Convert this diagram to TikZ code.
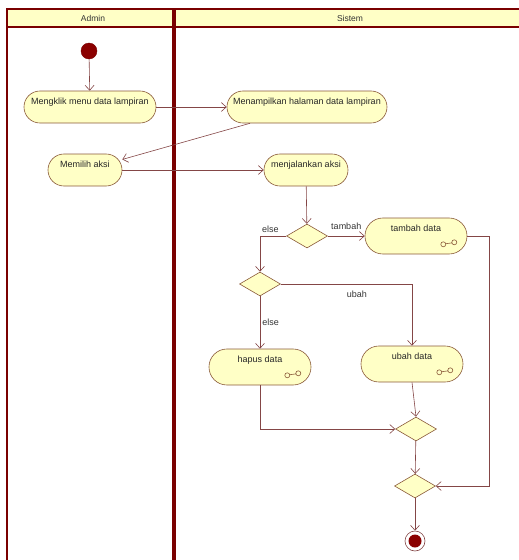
\documentclass[tikz,border=0pt]{standalone}
\usepackage{fontspec}
\setmainfont{Liberation Sans}
\usetikzlibrary{positioning, shapes.geometric, arrows.meta, calc}
\definecolor{laneC}{HTML}{7A0000}
\definecolor{lineC}{HTML}{844646}
\definecolor{boxC}{HTML}{8A5A3A}
\definecolor{fillC}{HTML}{FFFFC6}
\definecolor{dotC}{HTML}{8B0000}
\tikzset{
  lane/.style   ={draw=laneC, line width=1.4pt},
  lanediv/.style={draw=laneC, line width=3.2pt},
  head/.style   ={font=\fontsize{8.5}{10}\selectfont, text=black!80},
  act/.style    ={draw=boxC, fill=fillC, rounded corners=15.9pt,
                  minimum height=32, inner sep=2pt, line width=0.6pt,
                  font=\fontsize{9}{10}\selectfont, text=black!85,
                  text height=7pt, text depth=13pt},
  actsub/.style ={act, rounded corners=17.9pt, minimum height=36,
                  minimum width=102, text depth=17pt},
  dec/.style    ={diamond, draw=boxC, fill=fillC, inner sep=0pt,
                  minimum width=41, minimum height=24, line width=0.6pt},
  start/.style  ={circle, fill=dotC, draw=laneC, minimum size=16,
                  inner sep=0pt},
  stopring/.style={circle, fill=white, draw=lineC, minimum size=20,
                  inner sep=0pt, line width=0.6pt},
  flow/.style   ={-{Straight Barb[length=5pt, width=9pt]}, lineC,
                  line width=0.6pt},
  lbl/.style    ={font=\fontsize{9}{10}\selectfont, text=black!80,
                  inner sep=2pt},
  rakeline/.style={draw=boxC, line width=0.6pt},
}
\newcommand{\rakeicon}[1]{%
  \draw[rakeline] ($(#1.south east)+(-24,-10)$) circle[radius=2.5pt]
    ($(#1.south east)+(-21.6,-10.6)$) -- ($(#1.south east)+(-15.4,-11.4)$)
    ($(#1.south east)+(-13,-12)$) circle[radius=2.5pt];}

\begin{document}
\begin{tikzpicture}[x=1pt, y=-1pt]
\useasboundingbox (0,0) rectangle (519,560);

% swimlanes
\fill[fillC] (7,9) rectangle (530,27);
\draw[lane] (530,9) -- (7,9) -- (7,570);
\draw[lane] (7,27) -- (530,27);
\draw[lanediv] (174,9) -- (174,570);
\node[head] (hAdmin)  at (93,18)  {Admin};
\node[head] (hSistem) at (350,18) {Sistem};

% activities
\node[start] (init) at (89,51) {};
\node[act, minimum width=132] (klik)   at (90,107)  {Mengklik menu data lampiran};
\node[act, minimum width=160] (tampil) at (307,107) {Menampilkan halaman data lampiran};
\node[act, minimum width=74]  (pilih)  at (85,170)  {Memilih aksi};
\node[act, minimum width=84]  (jalan)  at (306,170) {menjalankan aksi};
\node[dec] (d1) at (307,236) {};
\node[actsub] (tambah) at (416,236) {tambah data};
\node[dec] (d2) at (260,284) {};
\node[actsub] (hapus) at (260,367) {hapus data};
\node[actsub] (ubah)  at (412,364) {ubah data};
\node[dec] (m1) at (416,429) {};
\node[dec] (m2) at (415,486) {};
\node[stopring] (final) at (415,541) {};
\fill[dotC] (final) circle[radius=6.5pt];
\foreach \n in {tambah, hapus, ubah} {\rakeicon{\n}}

% flows
\draw[flow] (init) -- (klik);
\draw[flow] (klik) -- (tampil);
\draw[flow] ([xshift=-57pt]tampil.south) -- (pilih);
\draw[flow] (pilih) -- (jalan);
\draw[flow] (jalan) -- (d1);
\draw[flow] (d1) -- node[lbl, above=4pt] {tambah} (tambah);
\draw[flow] (d1.west) -| node[lbl, pos=0.3, above=1.5pt] {else} (d2.north);
\draw[flow] (d2.east) -| node[lbl, pos=0.29, below=5pt] {ubah} (ubah.north);
\draw[flow] (d2) -- node[lbl, right] {else} (hapus);
\draw[flow] (hapus.south) |- (m1.west);
\draw[flow] (ubah.south) -- (m1.north);
\draw[flow] (m1) -- (m2);
\draw[flow] (tambah.east) -- ++(22,0) |- (m2.east);
\draw[flow] (m2) -- (final);

\end{tikzpicture}
\end{document}
